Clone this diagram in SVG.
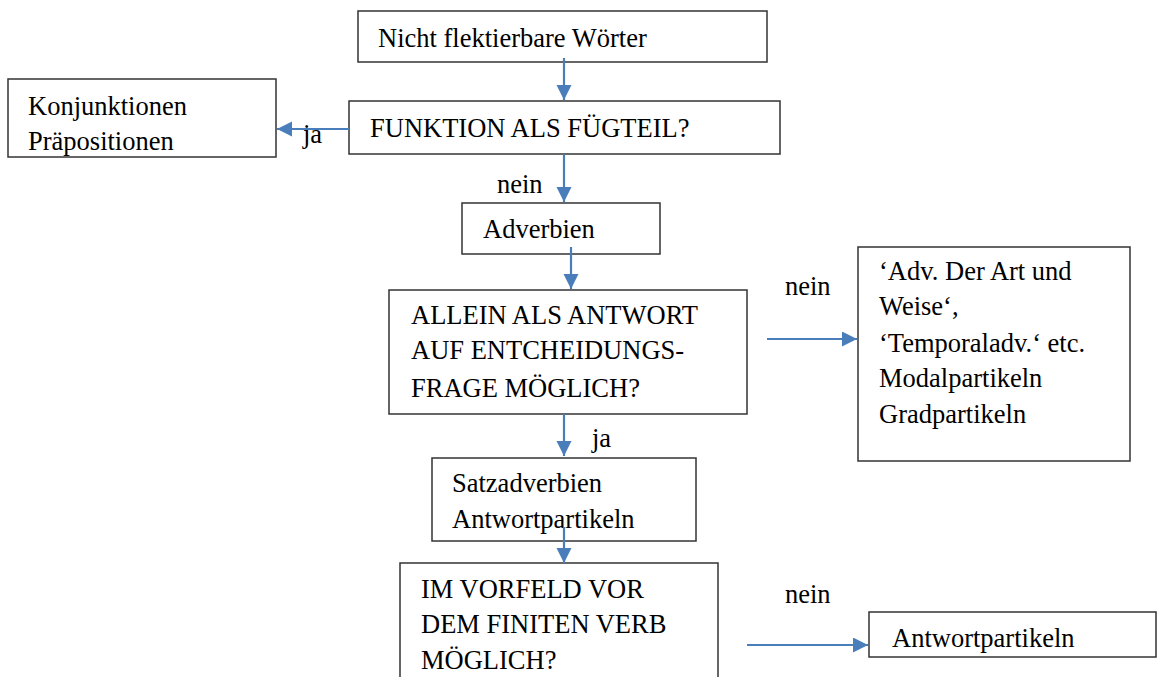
<svg xmlns="http://www.w3.org/2000/svg" width="1163" height="677" viewBox="0 0 1163 677" font-family="'Liberation Serif', Tinos, 'Times New Roman', 'DejaVu Serif', serif">
<style>
.box{fill:#fff;stroke:#333;stroke-width:1.5}
text{font-family:'Liberation Serif', Tinos, 'Times New Roman', 'DejaVu Serif', serif;font-size:26.5px;fill:#000}
.c{stroke:#4a7ebb;stroke-width:2.2;fill:none}
</style>
<defs>
<marker id="ah" markerUnits="userSpaceOnUse" markerWidth="16" markerHeight="16" refX="15" refY="7.5" orient="auto">
<path d="M0,0 L15,7.5 L0,15 z" fill="#4a7ebb"/>
</marker>
</defs>
<rect width="1163" height="677" fill="#fff"/>
<g id="n1"><rect class="box" x="358" y="11" width="409" height="51"/><text x="378" y="47">Nicht flektierbare Wörter</text></g>
<g id="n2"><rect class="box" x="349" y="101" width="431" height="53"/><text x="370" y="137">FUNKTION ALS FÜGTEIL?</text></g>
<g id="n3"><rect class="box" x="8" y="79" width="268" height="78"/><text x="28" y="115">Konjunktionen</text><text x="28" y="150">Präpositionen</text></g>
<g id="n4"><rect class="box" x="462" y="203" width="198" height="51"/><text x="483" y="238">Adverbien</text></g>
<g id="n5"><rect class="box" x="389" y="290" width="358" height="124"/><text x="411" y="324">ALLEIN ALS ANTWORT</text><text x="411" y="359">AUF ENTCHEIDUNGS-</text><text x="411" y="397">FRAGE MÖGLICH?</text></g>
<g id="n6"><rect class="box" x="858" y="247" width="272" height="214"/><text x="879" y="280">‘Adv. Der Art und</text><text x="879" y="315">Weise‘,</text><text x="879" y="352">‘Temporaladv.‘ etc.</text><text x="879" y="387">Modalpartikeln</text><text x="879" y="423">Gradpartikeln</text></g>
<g id="n7"><rect class="box" x="432" y="458" width="264" height="83"/><text x="452" y="492">Satzadverbien</text><text x="452" y="528">Antwortpartikeln</text></g>
<g id="n8"><rect class="box" x="400" y="563" width="318" height="130"/><text x="421" y="598">IM VORFELD VOR</text><text x="421" y="633">DEM FINITEN VERB</text><text x="421" y="669">MÖGLICH?</text></g>
<g id="n9"><rect class="box" x="869" y="612" width="287" height="45"/><text x="892" y="647">Antwortpartikeln</text></g>
<g id="connectors">
<line class="c" x1="564" y1="58" x2="564" y2="100" marker-end="url(#ah)"/>
<line class="c" x1="349" y1="129" x2="277" y2="129" marker-end="url(#ah)"/>
<line class="c" x1="564" y1="154" x2="564" y2="202" marker-end="url(#ah)"/>
<line class="c" x1="571" y1="247" x2="571" y2="289" marker-end="url(#ah)"/>
<line class="c" x1="767" y1="339" x2="857" y2="339" marker-end="url(#ah)"/>
<line class="c" x1="564" y1="414" x2="564" y2="456" marker-end="url(#ah)"/>
<line class="c" x1="564" y1="527" x2="564" y2="563" marker-end="url(#ah)"/>
<line class="c" x1="747" y1="645" x2="868" y2="645" marker-end="url(#ah)"/>
<text x="303" y="143">ja</text>
<text x="497" y="193">nein</text>
<text x="785" y="295">nein</text>
<text x="592" y="447">ja</text>
<text x="785" y="603">nein</text>
</g>
</svg>
